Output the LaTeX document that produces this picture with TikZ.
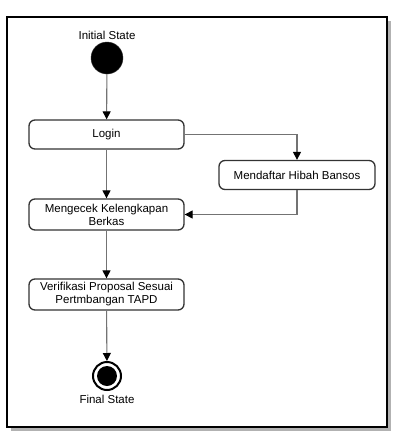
\documentclass[tikz,border=0pt]{standalone}
\usepackage{fontspec}
\setmainfont{Liberation Sans}
\usetikzlibrary{positioning,arrows.meta}

\begin{document}
\begin{tikzpicture}[x=1pt,y=-1pt,
  txt/.style={font=\fontsize{11.5}{13}\selectfont,inner sep=1pt},
  activity/.style={txt,draw=black!80,line width=1.3pt,rounded corners=6pt,
    minimum width=155pt,minimum height=29pt,align=center},
  startstate/.style={circle,fill=black,draw=black!80,minimum size=32pt,inner sep=0pt},
  endstate/.style={circle,draw=black,line width=2pt,minimum size=28pt,inner sep=0pt,
    path picture={\fill[black] (path picture bounding box.center) circle (10pt);}},
  flow/.style={draw=black!55,line width=1.1pt,
    -{Triangle[length=8pt,width=8pt,color=black,fill=black]}}]
\useasboundingbox (0,0) rectangle (407,448);
% frame with shadow
\fill[black!30] (11,21) rectangle (391,431);
\draw[line width=2pt,fill=white] (7,17) rectangle (387,427);

\path (107,58) node[startstate] (init) {}
  (107,35) node[txt] (initlbl) {Initial State}
  (106.5,134.5) node[activity] (login) {Login}
  (297,175) node[activity,minimum width=156pt] (daftar) {Mendaftar Hibah Bansos}
  (106.5,214.5) node[activity,minimum height=31pt] (cek) {Mengecek Kelengkapan\\Berkas}
  (106.5,294.5) node[activity,minimum height=31pt] (verif) {Verifikasi Proposal Sesuai\\Pertmbangan TAPD}
  (107,376) node[endstate] (final) {}
  (107,399) node[txt] (finallbl) {Final State};

\draw[flow] (init) -- (login);
\draw[flow] (login.east) -| (daftar.north);
\draw[flow] (daftar.south) |- (cek.east);
\draw[flow] (login) -- (cek);
\draw[flow] (cek) -- (verif);
\draw[flow] (verif) -- (final);
\end{tikzpicture}
\end{document}
